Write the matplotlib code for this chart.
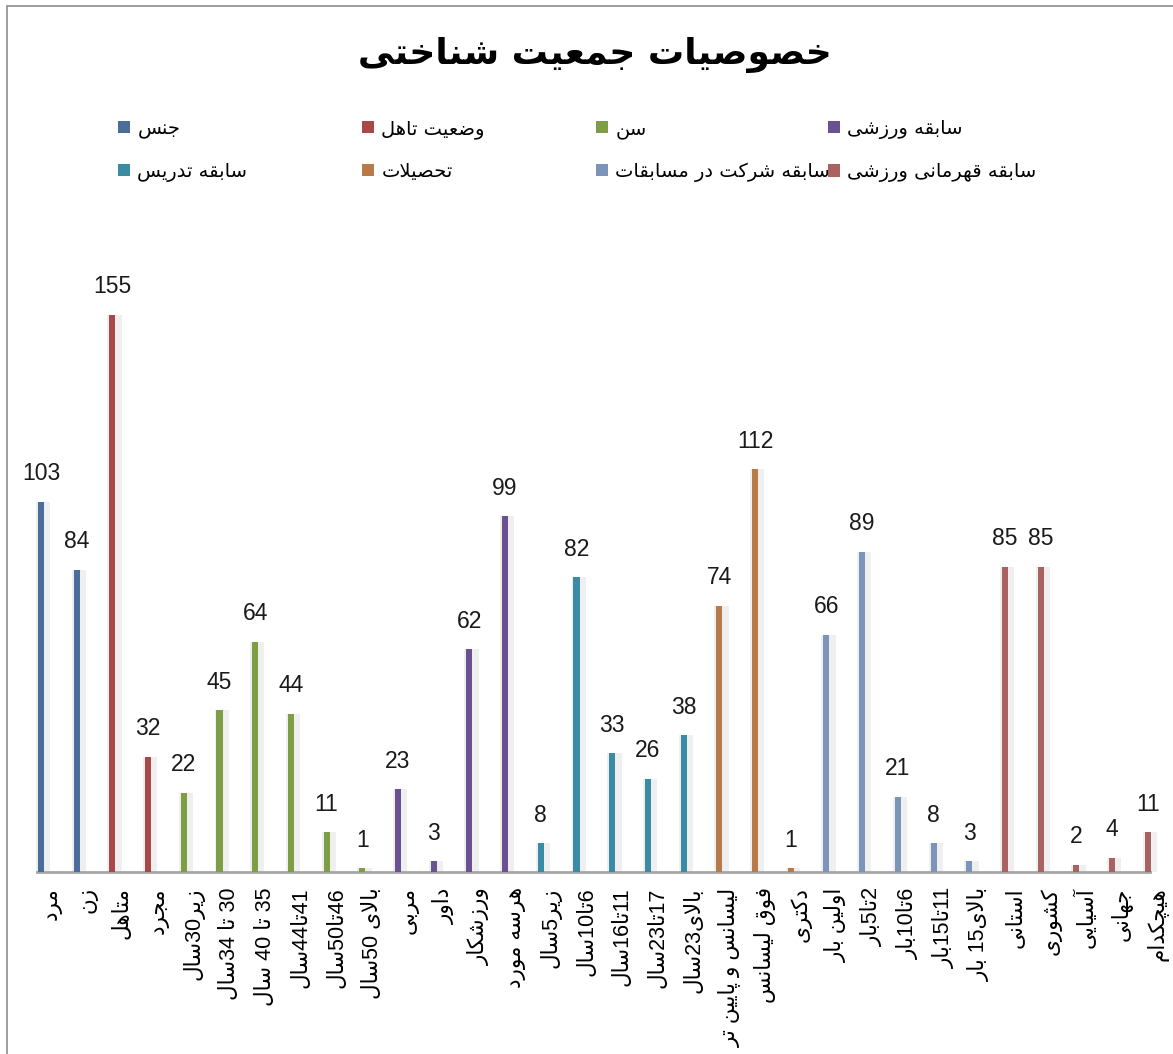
import re
import matplotlib
matplotlib.use('Agg')
import matplotlib.pyplot as plt
import matplotlib.transforms as mtransforms
from matplotlib.patches import Rectangle

# ---------------- data ----------------
title_text = 'خصوصیات جمعیت شناختی'
series_names = ['جنس', 'وضعیت تاهل', 'سن', 'سابقه ورزشی',
                'سابقه تدریس', 'تحصیلات', 'سابقه شرکت در مسابقات', 'سابقه قهرمانی ورزشی']

cat_gender = ['مرد', 'زن']
val_gender = [103, 84]
cat_marital = ['متاهل', 'مجرد']
val_marital = [155, 32]
cat_age = ['زیر30سال', '30 تا 34سال', '35 تا 40 سال', '41تا44سال', '46تا50سال', 'بالای 50سال']
val_age = [22, 45, 64, 44, 11, 1]
cat_sport = ['مربی', 'داور', 'ورزشکار', 'هرسه مورد']
val_sport = [23, 3, 62, 99]
cat_teach = ['زیر5سال', '6تا10سال', '11تا16سال', '17تا23سال', 'بالای23سال']
val_teach = [8, 82, 33, 26, 38]
cat_edu = ['لیسانس و پایین تر', 'فوق لیسانس', 'دکتری']
val_edu = [74, 112, 1]
cat_comp = ['اولین بار', '2تا5بار', '6تا10بار', '11تا15بار', 'بالای15 بار']
val_comp = [66, 89, 21, 8, 3]
cat_champ = ['استانی', 'کشوری', 'آسیایی', 'جهانی', 'هیچکدام']
val_champ = [85, 85, 2, 4, 11]

groups_cats = [cat_gender, cat_marital, cat_age, cat_sport, cat_teach, cat_edu, cat_comp, cat_champ]
groups_vals = [val_gender, val_marital, val_age, val_sport, val_teach, val_edu, val_comp, val_champ]
series_colors = ['#4A6D9A', '#A84848', '#7E9E45', '#6A5290',
                 '#3A8BA3', '#B87A48', '#7D94BA', '#A86262']

# ---------------- simple Persian shaping (presentation forms) ----------------
FORMS = {
    '\u0622': ('\uFE81', '\uFE82', None, None),
    '\u0627': ('\uFE8D', '\uFE8E', None, None),
    '\u0628': ('\uFE8F', '\uFE90', '\uFE91', '\uFE92'),
    '\u067E': ('\uFB56', '\uFB57', '\uFB58', '\uFB59'),
    '\u062A': ('\uFE95', '\uFE96', '\uFE97', '\uFE98'),
    '\u062B': ('\uFE99', '\uFE9A', '\uFE9B', '\uFE9C'),
    '\u062C': ('\uFE9D', '\uFE9E', '\uFE9F', '\uFEA0'),
    '\u0686': ('\uFB7A', '\uFB7B', '\uFB7C', '\uFB7D'),
    '\u062D': ('\uFEA1', '\uFEA2', '\uFEA3', '\uFEA4'),
    '\u062E': ('\uFEA5', '\uFEA6', '\uFEA7', '\uFEA8'),
    '\u062F': ('\uFEA9', '\uFEAA', None, None),
    '\u0630': ('\uFEAB', '\uFEAC', None, None),
    '\u0631': ('\uFEAD', '\uFEAE', None, None),
    '\u0632': ('\uFEAF', '\uFEB0', None, None),
    '\u0698': ('\uFB8A', '\uFB8B', None, None),
    '\u0633': ('\uFEB1', '\uFEB2', '\uFEB3', '\uFEB4'),
    '\u0634': ('\uFEB5', '\uFEB6', '\uFEB7', '\uFEB8'),
    '\u0635': ('\uFEB9', '\uFEBA', '\uFEBB', '\uFEBC'),
    '\u0636': ('\uFEBD', '\uFEBE', '\uFEBF', '\uFEC0'),
    '\u0637': ('\uFEC1', '\uFEC2', '\uFEC3', '\uFEC4'),
    '\u0638': ('\uFEC5', '\uFEC6', '\uFEC7', '\uFEC8'),
    '\u0639': ('\uFEC9', '\uFECA', '\uFECB', '\uFECC'),
    '\u063A': ('\uFECD', '\uFECE', '\uFECF', '\uFED0'),
    '\u0641': ('\uFED1', '\uFED2', '\uFED3', '\uFED4'),
    '\u0642': ('\uFED5', '\uFED6', '\uFED7', '\uFED8'),
    '\u06A9': ('\uFB8E', '\uFB8F', '\uFB90', '\uFB91'),
    '\u06AF': ('\uFB92', '\uFB93', '\uFB94', '\uFB95'),
    '\u0644': ('\uFEDD', '\uFEDE', '\uFEDF', '\uFEE0'),
    '\u0645': ('\uFEE1', '\uFEE2', '\uFEE3', '\uFEE4'),
    '\u0646': ('\uFEE5', '\uFEE6', '\uFEE7', '\uFEE8'),
    '\u0648': ('\uFEED', '\uFEEE', None, None),
    '\u0647': ('\uFEE9', '\uFEEA', '\uFEEB', '\uFEEC'),
    '\u06CC': ('\uFBFC', '\uFBFD', '\uFBFE', '\uFBFF'),
}
LIG = {'LA': ('\uFEFB', '\uFEFC'), 'LAA': ('\uFEF5', '\uFEF6')}


def shape(s):
    toks, i = [], 0
    while i < len(s):
        c = s[i]
        if c == '\u0644' and i + 1 < len(s) and s[i + 1] in ('\u0627', '\u0622'):
            toks.append('LA' if s[i + 1] == '\u0627' else 'LAA')
            i += 2
        else:
            toks.append(c)
            i += 1

    def is_letter(t):
        return t in FORMS or t in LIG

    def dual(t):
        return t in FORMS and FORMS[t][2] is not None

    out = []
    for k, t in enumerate(toks):
        if not is_letter(t):
            out.append(t)
            continue
        pj = k > 0 and dual(toks[k - 1])
        nj = dual(t) and k + 1 < len(toks) and is_letter(toks[k + 1])
        if t in LIG:
            out.append(LIG[t][1] if pj else LIG[t][0])
        else:
            f = FORMS[t]
            if pj and nj:
                out.append(f[3])
            elif pj:
                out.append(f[1])
            elif nj:
                out.append(f[2])
            else:
                out.append(f[0])
    return ''.join(out)


def visual(s):
    r = shape(s)[::-1]
    return re.sub(r'[0-9]+', lambda m: m.group(0)[::-1], r)


# ---------------- figure ----------------
W, H, DPI = 1173, 1054, 100
fig = plt.figure(figsize=(W / DPI, H / DPI), dpi=DPI)
fig.patch.set_facecolor('white')

ax_left_px, ax_right_px = 23.15, 1165.6
ax_bottom_px, ax_top_px = 872, 230
ax = fig.add_axes([ax_left_px / W, 1 - ax_bottom_px / H,
                   (ax_right_px - ax_left_px) / W, (ax_bottom_px - ax_top_px) / H])
ax.set_facecolor('none')

all_cats = [c for g in groups_cats for c in g]
n = len(all_cats)
ax.set_xlim(-0.5, n - 0.5)
ax.set_ylim(0, (ax_bottom_px - ax_top_px) / 3.594)

LAB_FONT = ['Liberation Sans', 'DejaVu Sans']
start = 0
containers = []
for name, cats, vals, col in zip(series_names, groups_cats, groups_vals, series_colors):
    xs = list(range(start, start + len(cats)))
    # light 3D back-wall band
    ax.bar([x + 0.06 for x in xs], vals, width=0.40, color='#EFEFEF', zorder=1)
    bc = ax.bar(xs, vals, width=0.17, color=col, zorder=3, label=visual(name))
    ax.bar_label(bc, labels=[str(v) for v in vals], padding=12, fontsize=16.5,
                 family=LAB_FONT, color='#1a1a1a')
    containers.append(bc)
    start += len(cats)

ax.set_xticks(range(n))
ax.set_xticklabels([visual(c) for c in all_cats], rotation=90, fontsize=15.5,
                   family=LAB_FONT, color='black', va='top', ha='center')
ax.tick_params(axis='x', length=0, pad=11)
offset = mtransforms.ScaledTranslation(10 / DPI, 0, fig.dpi_scale_trans)
for lab in ax.get_xticklabels():
    lab.set_transform(lab.get_transform() + offset)
ax.set_yticks([])
for sp in ['top', 'right', 'left']:
    ax.spines[sp].set_visible(False)
ax.spines['bottom'].set_color('#A6A6A6')
ax.spines['bottom'].set_linewidth(2)
ax.spines['bottom'].set_bounds(-0.11, 31.06)

# title
fig.text(595 / W, 1 - 55 / H, visual(title_text), ha='center', va='center',
         fontsize=26, fontweight='bold', family='DejaVu Sans')

# legend: 4 columns x 2 rows (row-wise order)
col_x = [118, 362, 596, 828]
for k in range(4):
    hs = [containers[k], containers[k + 4]]
    ls = [visual(series_names[k]), visual(series_names[k + 4])]
    fig.legend(hs, ls, loc='upper left', bbox_to_anchor=(col_x[k] / W, 1 - 119 / H),
               frameon=False, prop={'family': 'DejaVu Sans', 'size': 14},
               handlelength=0.6, handleheight=0.6, handletextpad=0.4,
               labelspacing=1.2, borderpad=0, borderaxespad=0)

# outer chart border
fig.add_artist(Rectangle((7 / W, -0.5), 2.0, 0.5 + 1 - 6 / H, transform=fig.transFigure,
                         fill=False, edgecolor='#8C8C8C', linewidth=1.2))

fig.savefig('out.png', dpi=DPI, facecolor='white')
